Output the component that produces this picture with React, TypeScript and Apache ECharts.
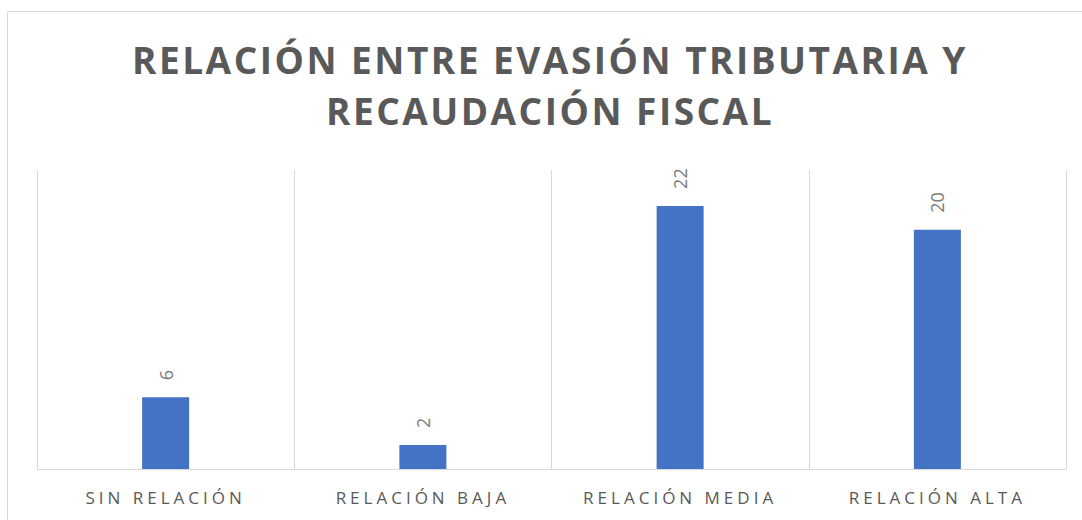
import React, { useEffect, useRef } from "react";
import * as echarts from "echarts";

const categories = ["SIN RELACIÓN", "RELACIÓN BAJA", "RELACIÓN MEDIA", "RELACIÓN ALTA"];
const values = [6, 2, 22, 20];
const titleText = "RELACIÓN ENTRE EVASIÓN TRIBUTARIA Y\nRECAUDACIÓN FISCAL";

export default function App() {
  const ref = useRef<HTMLDivElement>(null);
  useEffect(() => {
    if (!ref.current) return;
    const chart = echarts.init(ref.current, null, { renderer: "svg" });
    chart.setOption({
      animation: false,
      backgroundColor: "#ffffff",
      title: {
        text: titleText,
        left: 550,
        top: 34,
        padding: 0,
        textAlign: "center",
        textStyle: {
          fontFamily: "Open Sans",
          fontWeight: "bold",
          fontSize: 37,
          lineHeight: 51,
          color: "#595959",
        },
      },
      graphic: [
        {
          type: "rect",
          shape: { x: 7.5, y: 11.5, width: 1200, height: 600 },
          style: { fill: "none", stroke: "#d9d9d9", lineWidth: 1 },
          silent: true,
        },
      ],
      grid: { left: 37, right: 16, top: 170, bottom: 51 },
      xAxis: {
        type: "category",
        data: categories,
        axisLine: { lineStyle: { color: "#d9d9d9", width: 1 } },
        axisTick: { show: false },
        splitLine: { show: true, interval: 0, lineStyle: { color: "#d9d9d9", width: 1 } },
        axisLabel: {
          fontFamily: "Open Sans",
          fontSize: 17,
          color: "#595959",
          margin: 20,
          interval: 0,
        },
      },
      yAxis: {
        type: "value",
        min: 0,
        max: 25,
        interval: 5,
        show: false,
        splitLine: { show: false },
      },
      series: [
        {
          type: "bar",
          data: values,
          barWidth: 47,
          itemStyle: { color: "#4472C4" },
          label: {
            show: true,
            position: "top",
            rotate: 90,
            align: "left",
            verticalAlign: "middle",
            distance: 17,
            fontFamily: "Open Sans",
            fontSize: 18,
            color: "#7a7a7a",
          },
        },
      ],
    });
    const texts = ref.current.querySelectorAll("text");
    texts.forEach((t) => {
      const el = t as SVGTextElement;
      const s = el.getAttribute("style") || "";
      if (s.includes("bold")) el.style.letterSpacing = "2.5px";
      else if (s.includes("17px")) el.style.letterSpacing = "4px";
    });
    return () => chart.dispose();
  }, []);
  return (
    <div
      ref={ref}
      style={{ position: "fixed", left: 0, top: 0, width: 1082, height: 520 }}
    />
  );
}
